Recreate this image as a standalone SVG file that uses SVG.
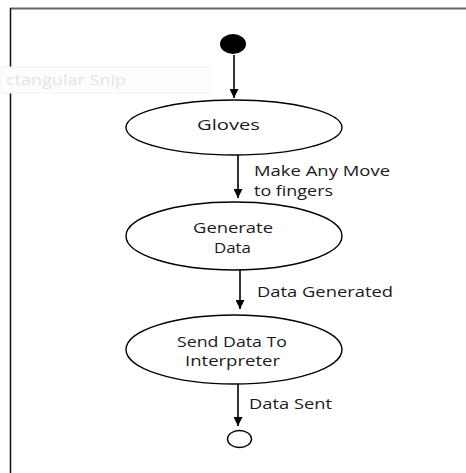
<svg xmlns="http://www.w3.org/2000/svg" width="466" height="473" viewBox="0 0 466 473">
<defs>
<style>
.node{fill:#fff;stroke:#000;stroke-width:1.4}
.lbl{font-family:"Open Sans","Noto Sans","DejaVu Sans",sans-serif;font-size:14px;fill:#1a1a1a}
.c{stroke:#000;stroke-width:1.6;fill:none}
</style>
<marker id="ah" viewBox="0 0 10 10" refX="10" refY="5" markerWidth="9" markerHeight="9" markerUnits="userSpaceOnUse" orient="auto">
<path d="M0,0 L10,5 L0,10 Z" fill="#000"/>
</marker>
</defs>
<rect x="0" y="0" width="466" height="473" fill="#fff"/>
<line x1="10" y1="8.5" x2="466" y2="8.5" stroke="#666" stroke-width="2"/>
<line x1="10.5" y1="8" x2="10.5" y2="473" stroke="#111" stroke-width="1.5"/>
<g id="snip-artifact">
<rect x="0" y="67" width="210" height="26" fill="#fdfdfd" stroke="#f3f3f3" stroke-width="1"/>
<text x="6" y="85" class="lbl" style="fill:#e4e4e4" textLength="120" lengthAdjust="spacingAndGlyphs">ctangular Snip</text>
</g>
<g id="connectors">
<line class="c" x1="234" y1="55" x2="234" y2="98" marker-end="url(#ah)"/>
<line class="c" x1="238" y1="155" x2="238" y2="198" marker-end="url(#ah)"/>
<line class="c" x1="240" y1="270" x2="240" y2="309" marker-end="url(#ah)"/>
<line class="c" x1="238" y1="384" x2="238" y2="426" marker-end="url(#ah)"/>
<text class="lbl" x="254" y="176" textLength="136" lengthAdjust="spacingAndGlyphs">Make Any Move</text>
<text class="lbl" x="254" y="196" textLength="79" lengthAdjust="spacingAndGlyphs">to fingers</text>
<text class="lbl" x="257" y="297" textLength="136" lengthAdjust="spacingAndGlyphs">Data Generated</text>
<text class="lbl" x="249" y="409" textLength="83" lengthAdjust="spacingAndGlyphs">Data Sent</text>
</g>
<g id="start">
<ellipse cx="233" cy="44" rx="13" ry="10" fill="#000"/>
</g>
<g id="gloves">
<ellipse class="node" cx="234" cy="127.5" rx="108" ry="27.5"/>
<text class="lbl" x="197" y="130" textLength="63" lengthAdjust="spacingAndGlyphs">Gloves</text>
</g>
<g id="generate-data">
<ellipse class="node" cx="234" cy="236" rx="108" ry="34"/>
<text class="lbl" x="193" y="233" textLength="80" lengthAdjust="spacingAndGlyphs">Generate</text>
<text class="lbl" x="214" y="253" textLength="37" lengthAdjust="spacingAndGlyphs">Data</text>
</g>
<g id="send-data">
<ellipse class="node" cx="234" cy="349.5" rx="108" ry="34.5"/>
<text class="lbl" x="177" y="347" textLength="110" lengthAdjust="spacingAndGlyphs">Send Data To</text>
<text class="lbl" x="185" y="366" textLength="95" lengthAdjust="spacingAndGlyphs">Interpreter</text>
</g>
<g id="end">
<ellipse class="node" cx="239.5" cy="439" rx="12" ry="8.5"/>
</g>
</svg>
